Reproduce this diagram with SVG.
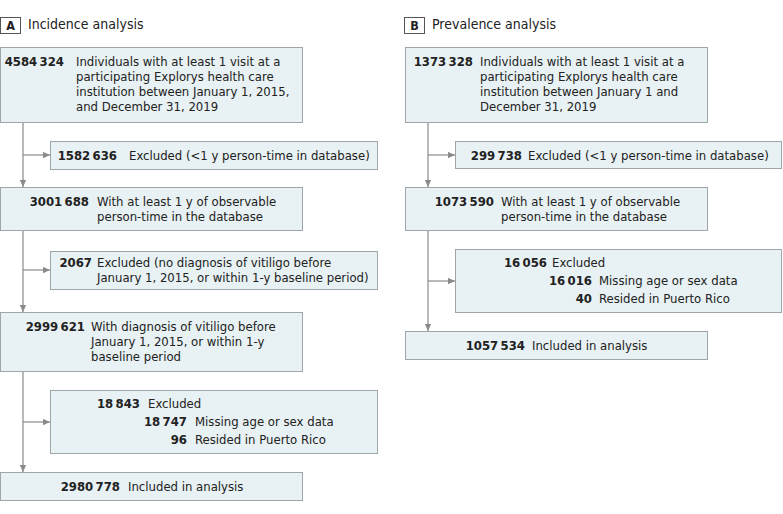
<svg xmlns="http://www.w3.org/2000/svg" width="783" height="514" viewBox="0 0 783 514">
<style>
text{font-family:"DejaVu Sans Condensed","Liberation Sans Narrow","Liberation Sans",sans-serif;font-size:13px;fill:#222}
.n{font-weight:bold;text-anchor:end}
.box{fill:#e8f1f3;stroke:#9ea6a9;stroke-width:1}
.lab{fill:#fff;stroke:#555;stroke-width:1}
.labt{font-weight:bold;font-size:12.5px;text-anchor:middle}
.title{font-size:14px}
.c{stroke:#8a8a8a;stroke-width:1.2;fill:none}
</style>
<defs>
<marker id="ah" viewBox="0 0 10 10" refX="10" refY="5" markerWidth="7" markerHeight="7" markerUnits="userSpaceOnUse" orient="auto">
<path d="M0,0.5 L10,5 L0,9.5 z" fill="#8a8a8a"/>
</marker>
</defs>
<g id="titleA"><rect class="lab" x="0.5" y="17.5" width="20" height="16"/><text class="labt" x="10.5" y="30">A</text><text class="title" x="28" y="29">Incidence analysis</text></g>
<g id="titleB"><rect class="lab" x="404.5" y="17.5" width="20" height="16"/><text class="labt" x="414.5" y="30">B</text><text class="title" x="432" y="29">Prevalence analysis</text></g>
<g id="connectors">
<path class="c" d="M23,122 V187" marker-end="url(#ah)"/>
<path class="c" d="M23,155 H50" marker-end="url(#ah)"/>
<path class="c" d="M23,230 V312" marker-end="url(#ah)"/>
<path class="c" d="M23,270 H50" marker-end="url(#ah)"/>
<path class="c" d="M23,371 V472" marker-end="url(#ah)"/>
<path class="c" d="M23,422 H50" marker-end="url(#ah)"/>
<path class="c" d="M428,122 V187" marker-end="url(#ah)"/>
<path class="c" d="M428,155 H455" marker-end="url(#ah)"/>
<path class="c" d="M428,230 V331" marker-end="url(#ah)"/>
<path class="c" d="M428,281 H455" marker-end="url(#ah)"/>
</g>
<g id="a1"><rect class="box" x="0.5" y="47.5" width="302" height="75"/><text class="n" x="64" y="66">4584&#8201;324</text><text x="76" y="66">Individuals with at least 1 visit at a</text><text x="76" y="81">participating Explorys health care</text><text x="76" y="96">institution between January 1, 2015,</text><text x="76" y="111">and December 31, 2019</text></g>
<g id="a2"><rect class="box" x="50.5" y="141.5" width="327" height="28"/><text class="n" x="117" y="160">1582&#8201;636</text><text x="129" y="160">Excluded (&lt;1 y person-time in database)</text></g>
<g id="a3"><rect class="box" x="0.5" y="187.5" width="302" height="43"/><text class="n" x="89" y="206">3001&#8201;688</text><text x="97" y="206">With at least 1 y of observable</text><text x="97" y="221">person-time in the database</text></g>
<g id="a4"><rect class="box" x="50.5" y="251.5" width="327" height="38"/><text class="n" x="92" y="267">2067</text><text x="97" y="267">Excluded (no diagnosis of vitiligo before</text><text x="97" y="282">January 1, 2015, or within 1-y baseline period)</text></g>
<g id="a5"><rect class="box" x="0.5" y="312.5" width="302" height="59"/><text class="n" x="85" y="331">2999&#8201;621</text><text x="91" y="331">With diagnosis of vitiligo before</text><text x="91" y="346">January 1, 2015, or within 1-y</text><text x="91" y="361">baseline period</text></g>
<g id="a6"><rect class="box" x="50.5" y="390.5" width="327" height="63"/><text class="n" x="140" y="408">18&#8201;843</text><text x="148" y="408">Excluded</text><text class="n" x="187" y="426">18&#8201;747</text><text x="195" y="426">Missing age or sex data</text><text class="n" x="187" y="444">96</text><text x="195" y="444">Resided in Puerto Rico</text></g>
<g id="a7"><rect class="box" x="0.5" y="472.5" width="302" height="28"/><text class="n" x="120" y="491">2980&#8201;778</text><text x="128" y="491">Included in analysis</text></g>
<g id="b1"><rect class="box" x="405.5" y="47.5" width="302" height="75"/><text class="n" x="473" y="66">1373&#8201;328</text><text x="480" y="66">Individuals with at least 1 visit at a</text><text x="480" y="81">participating Explorys health care</text><text x="480" y="96">institution between January 1 and</text><text x="480" y="111">December 31, 2019</text></g>
<g id="b2"><rect class="box" x="455.5" y="141.5" width="326" height="27"/><text class="n" x="522" y="160">299&#8201;738</text><text x="528" y="160">Excluded (&lt;1 y person-time in database)</text></g>
<g id="b3"><rect class="box" x="405.5" y="187.5" width="302" height="43"/><text class="n" x="494" y="206">1073&#8201;590</text><text x="501" y="206">With at least 1 y of observable</text><text x="501" y="221">person-time in the database</text></g>
<g id="b4"><rect class="box" x="455.5" y="249.5" width="326" height="63"/><text class="n" x="547" y="267">16&#8201;056</text><text x="552" y="267">Excluded</text><text class="n" x="592" y="285">16&#8201;016</text><text x="599" y="285">Missing age or sex data</text><text class="n" x="592" y="303">40</text><text x="599" y="303">Resided in Puerto Rico</text></g>
<g id="b5"><rect class="box" x="405.5" y="331.5" width="302" height="28"/><text class="n" x="525" y="350">1057&#8201;534</text><text x="532" y="350">Included in analysis</text></g>
</svg>
